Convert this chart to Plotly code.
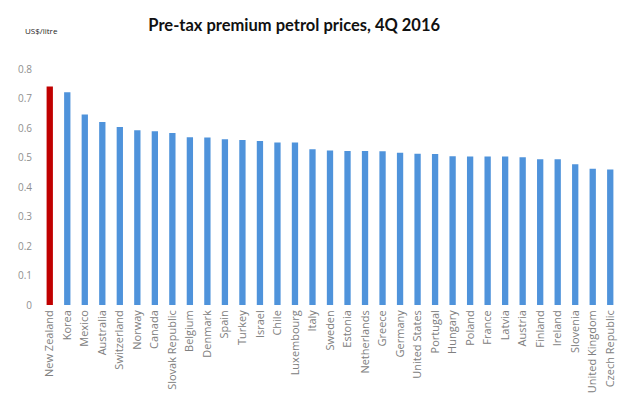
import plotly.graph_objects as go

countries = ["New Zealand", "Korea", "Mexico", "Australia", "Switzerland", "Norway", "Canada",
             "Slovak Republic", "Belgium", "Denmark", "Spain", "Turkey", "Israel", "Chile",
             "Luxembourg", "Italy", "Sweden", "Estonia", "Netherlands", "Greece", "Germany",
             "United States", "Portugal", "Hungary", "Poland", "France", "Latvia", "Austria",
             "Finland", "Ireland", "Slovenia", "United Kingdom", "Czech Republic"]
prices = [0.741, 0.721, 0.646, 0.620, 0.603, 0.592, 0.589,
          0.583, 0.569, 0.568, 0.562, 0.559, 0.556, 0.551,
          0.551, 0.528, 0.524, 0.522, 0.522, 0.521, 0.516,
          0.513, 0.512, 0.504, 0.503, 0.503, 0.503, 0.501,
          0.494, 0.494, 0.477, 0.462, 0.459]
y_ticks = [0, 0.1, 0.2, 0.3, 0.4, 0.5, 0.6, 0.7, 0.8]
y_tick_labels = ["0", "0.1", "0.2", "0.3", "0.4", "0.5", "0.6", "0.7", "0.8"]

colors = ["#C00000" if c == "New Zealand" else "#4F93DB" for c in countries]

fig = go.Figure(go.Bar(x=countries, y=prices, marker_color=colors, marker_line_width=0))

fig.update_layout(
    width=626, height=405,
    margin=dict(l=41, r=7, t=69, b=100, autoexpand=False),
    paper_bgcolor="white", plot_bgcolor="white",
    bargap=0.64,
    showlegend=False,
    font=dict(family="Open Sans", color="#7f7f7f"),
    title=dict(text="<b>Pre-tax premium petrol prices, 4Q 2016</b>", x=0.47, xanchor="center",
               y=0.938, yanchor="middle", font=dict(family="Lato", size=16.5, color="#111111")),
    annotations=[dict(text="US$/litre", x=0.0, y=1.165, xref="paper", yref="paper",
                      xanchor="center", yanchor="middle", showarrow=False,
                      font=dict(family="Open Sans", size=8, color="#222222"))],
)

fig.update_xaxes(tickangle=-90, tickfont=dict(size=11, color="#808080"), showgrid=False,
                 showline=False, ticks="", ticklabelstandoff=2, automargin=False)
fig.update_yaxes(range=[0, 0.8], tickvals=y_ticks, ticktext=y_tick_labels, showgrid=False,
                 zeroline=False, showline=False, ticks="", tickfont=dict(size=10, color="#8f8f8f"),
                 ticklabelstandoff=8, automargin=False)

fig.write_html("out.html", config={"displayModeBar": False},
               post_script="document.body.style.margin='0';")
